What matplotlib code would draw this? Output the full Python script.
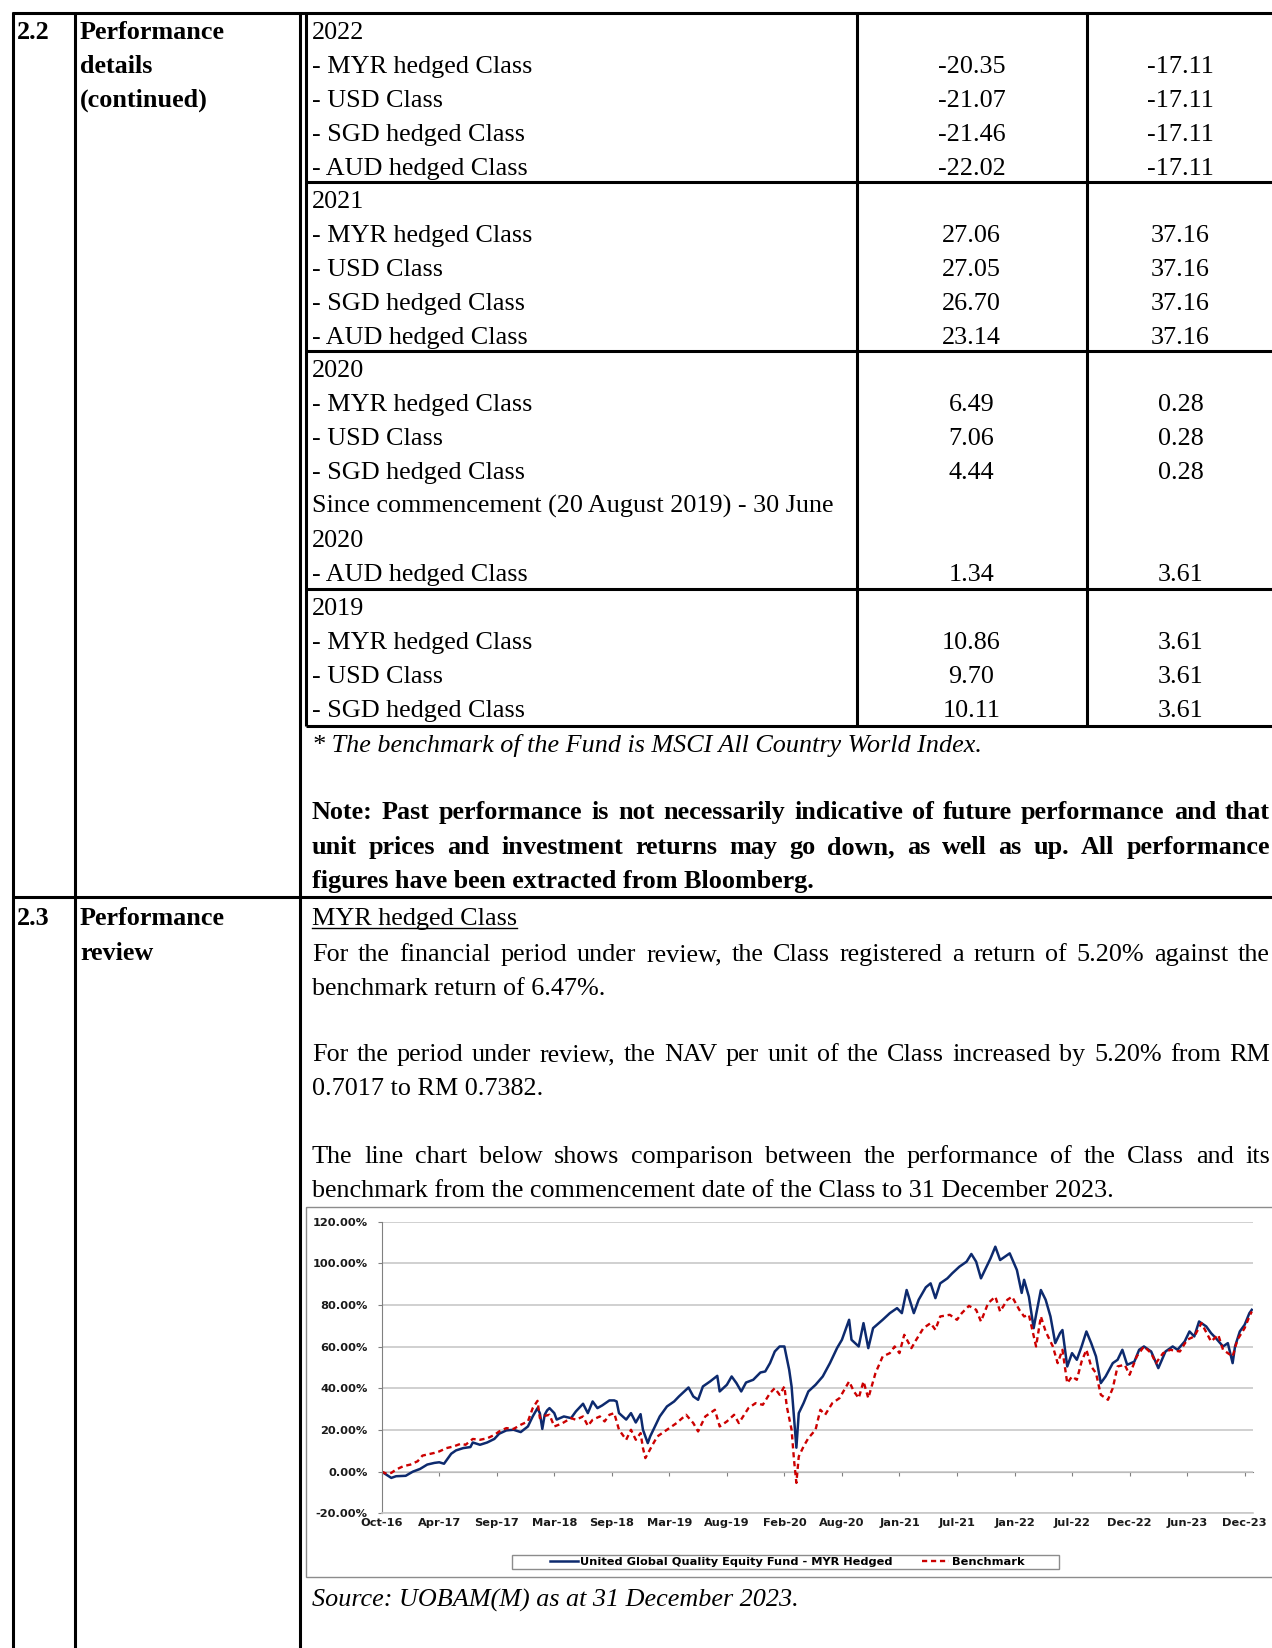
import matplotlib
matplotlib.use("Agg")
import matplotlib.pyplot as plt
from matplotlib.patches import Rectangle
from matplotlib.ticker import FuncFormatter

# ================================
# Table values (performance details, %)
# ================================
years = ["2022", "2021", "2020", "2019"]

rows_2022 = ["- MYR hedged Class", "- USD Class", "- SGD hedged Class", "- AUD hedged Class"]
fund_2022 = ["-20.35", "-21.07", "-21.46", "-22.02"]
bench_2022 = ["-17.11", "-17.11", "-17.11", "-17.11"]

rows_2021 = ["- MYR hedged Class", "- USD Class", "- SGD hedged Class", "- AUD hedged Class"]
fund_2021 = ["27.06", "27.05", "26.70", "23.14"]
bench_2021 = ["37.16", "37.16", "37.16", "37.16"]

rows_2020 = ["- MYR hedged Class", "- USD Class", "- SGD hedged Class",
             "Since commencement (20 August 2019) - 30 June", "2020", "- AUD hedged Class"]
fund_2020 = ["6.49", "7.06", "4.44", "", "", "1.34"]
bench_2020 = ["0.28", "0.28", "0.28", "", "", "3.61"]

rows_2019 = ["- MYR hedged Class", "- USD Class", "- SGD hedged Class"]
fund_2019 = ["10.86", "9.70", "10.11"]
bench_2019 = ["3.61", "3.61", "3.61"]

# ================================
# Line chart values (cumulative return %, x in weeks since Oct-16)
# ================================
tick_labels = ["Oct-16", "Apr-17", "Sep-17", "Mar-18", "Sep-18", "Mar-19", "Aug-19", "Feb-20",
               "Aug-20", "Jan-21", "Jul-21", "Jan-22", "Jul-22", "Dec-22", "Jun-23", "Dec-23"]
tick_weeks = [0, 24, 48, 72, 96, 120, 144, 168, 192, 216, 240, 264, 288, 312, 336, 360]

fund_weeks = [0, 4, 6, 10, 13, 16, 19, 22, 24, 26, 29, 31, 34, 37, 38, 41, 44, 47, 49, 52,
              55, 58, 61, 63, 65, 66, 67, 68, 69, 70, 72, 73, 76, 79, 81, 84, 86, 88, 90, 92,
              95, 97, 98, 99, 102, 104, 106, 108, 109, 111, 112, 113, 116, 119, 122, 124, 128, 130, 132, 134,
              137, 140, 141, 144, 146, 148, 150, 152, 155, 158, 160, 162, 164, 166, 168, 170, 171, 173, 174, 176,
              178, 181, 184, 187, 190, 192, 195, 196, 199, 201, 203, 205, 209, 212, 215, 217, 219, 222, 224, 227,
              229, 231, 233, 236, 238, 241, 244, 246, 248, 250, 254, 256, 258, 261, 262, 265, 267, 268, 270, 272,
              273, 275, 277, 279, 281, 283, 284, 286, 288, 290, 292, 294, 296, 298, 300, 302, 305, 307, 309, 311,
              314, 316, 318, 321, 324, 327, 330, 332, 335, 337, 339, 341, 344, 346, 348, 351, 353, 355, 356, 358,
              360, 362, 363]
fund_values = [0.0, -3.0, -2.2, -2.0, 0.0, 1.3, 3.4, 4.2, 4.5, 3.8, 8.6, 10.2, 11.3, 11.8, 14.0, 12.9, 14.0, 15.7, 18.2, 19.8,
               20.1, 19.0, 21.7, 26.5, 30.5, 28.0, 20.5, 27.3, 29.4, 30.5, 28.1, 25.0, 26.5, 25.7, 28.9, 32.6, 28.1, 33.7, 30.5, 31.8,
               34.2, 34.2, 33.7, 28.1, 25.0, 28.1, 23.6, 27.6, 20.1, 13.7, 16.9, 19.3, 26.5, 31.3, 33.7, 36.1, 40.4, 36.1, 34.5, 40.9,
               43.3, 46.0, 38.5, 41.7, 45.7, 42.5, 38.5, 42.8, 44.1, 47.6, 48.1, 52.1, 57.7, 60.1, 60.1, 48.9, 40.9, 11.5, 28.1, 32.9,
               38.5, 41.7, 45.7, 52.1, 59.4, 63.3, 72.9, 63.3, 60.1, 71.3, 59.3, 68.9, 72.9, 76.1, 78.5, 76.1, 87.2, 76.1, 82.5, 88.5,
               90.4, 83.3, 90.4, 92.8, 95.2, 98.4, 100.8, 104.5, 100.8, 92.8, 102.4, 108.0, 101.6, 104.0, 104.8, 96.8, 85.8, 92.1, 84.0, 68.9,
               75.3, 87.2, 82.5, 74.5, 61.7, 66.5, 68.0, 50.5, 56.9, 53.7, 60.1, 67.3, 61.7, 55.3, 42.5, 45.7, 52.1, 53.7, 58.5, 51.3,
               52.8, 58.5, 60.1, 57.7, 49.7, 57.7, 60.1, 58.5, 62.5, 67.3, 64.9, 72.1, 69.7, 66.5, 64.1, 60.1, 61.7, 52.1, 60.1, 67.3,
               70.5, 76.1, 77.7]

bench_weeks = [0, 2, 4, 6, 9, 12, 15, 17, 22, 24, 27, 30, 33, 35, 38, 41, 44, 47, 49, 52,
               55, 58, 61, 63, 65, 66, 67, 70, 72, 75, 79, 81, 84, 86, 88, 91, 93, 95, 97, 99,
               102, 104, 106, 108, 109, 110, 113, 115, 119, 123, 127, 130, 132, 135, 139, 141, 144, 147, 149, 153,
               156, 159, 162, 164, 166, 168, 169, 171, 172, 173, 174, 176, 178, 181, 183, 185, 188, 191, 195, 197,
               199, 201, 203, 206, 209, 212, 214, 216, 218, 221, 223, 226, 229, 231, 233, 237, 240, 242, 245, 248,
               250, 253, 256, 258, 261, 263, 266, 268, 270, 273, 275, 277, 280, 282, 284, 286, 288, 290, 292, 294,
               296, 298, 300, 303, 305, 307, 310, 312, 315, 318, 321, 323, 326, 329, 333, 336, 339, 342, 346, 349,
               351, 355, 357, 360, 362, 363]
bench_values = [0.0, -1.0, -0.6, 1.0, 2.6, 3.4, 5.0, 7.7, 9.0, 9.7, 11.3, 12.1, 13.4, 12.9, 15.7, 15.3, 16.0, 17.6, 19.3, 20.9,
                20.5, 22.5, 24.1, 30.5, 34.0, 25.7, 26.5, 27.3, 21.7, 23.0, 25.7, 24.9, 26.5, 22.0, 24.9, 26.5, 24.1, 27.3, 28.1, 20.1,
                15.3, 20.1, 15.3, 18.5, 11.3, 6.5, 12.9, 16.9, 20.1, 23.3, 27.3, 23.3, 19.3, 26.5, 29.7, 21.7, 24.1, 27.3, 23.3, 30.5,
                32.9, 32.1, 37.7, 40.1, 36.9, 40.9, 31.3, 20.1, 5.8, -5.4, 7.3, 12.1, 16.1, 20.1, 29.7, 27.3, 32.9, 35.3, 43.3, 38.5,
                35.3, 43.3, 35.3, 47.3, 55.3, 56.9, 60.1, 56.9, 65.7, 59.3, 63.3, 68.9, 71.3, 68.1, 74.5, 75.3, 72.9, 76.1, 79.6, 77.7,
                72.1, 80.9, 84.0, 76.9, 82.5, 84.0, 77.7, 74.5, 75.3, 60.1, 74.5, 67.3, 60.1, 52.1, 58.5, 42.5, 45.7, 44.1, 52.9, 58.5,
                50.5, 47.3, 36.9, 34.5, 40.1, 50.5, 51.3, 46.5, 55.3, 60.1, 56.9, 52.1, 56.9, 58.5, 57.7, 63.3, 64.9, 71.3, 62.5, 65.7,
                58.5, 55.3, 63.3, 68.9, 74.5, 76.9]

# ================================
# Page (pixel coordinates, y down)
# ================================
W, H = 1272, 1648
fig = plt.figure(figsize=(W / 100, H / 100), dpi=100)
page = fig.add_axes([0, 0, 1, 1])
page.set_autoscale_on(False)
page.set_xlim(0, W)
page.set_ylim(H, 0)
page.axis("off")
renderer = fig.canvas.get_renderer()

SERIF = "Liberation Serif"
FS = 18.8
LW = 2.2


def hline(y, x0, x1):
    page.plot([x0, x1], [y, y], color="black", lw=LW, solid_capstyle="butt")


def vline(x, y0, y1):
    page.plot([x, x], [y0, y1], color="black", lw=LW, solid_capstyle="butt")


def put(x, y, s, ha="left", **kw):
    return page.text(x, y, s, fontsize=FS, family=SERIF, va="baseline", ha=ha, **kw)


def justify(s, y, x0=312, x1=1270, **kw):
    words = s.split()
    items = [put(0, y, w, **kw) for w in words]
    widths = [t.get_window_extent(renderer).width for t in items]
    gap = (x1 - x0 - sum(widths)) / (len(words) - 1)
    x = x0
    for t, w in zip(items, widths):
        t.set_x(x)
        x += w + gap


# grid lines of the document table
hline(12.6, 11.5, W)
for x in [12.6, 75, 300]:
    vline(x, 11.5, H)
for x in [306, 857, 1087]:
    vline(x, 12.6, 725.5)
group_tops = [12.6, 182, 351, 589]
for y in group_tops[1:] + [725.5]:
    hline(y, 306, W)
hline(897, 11.5, W)

# left columns
put(17, 38.6, "2.2", fontweight="bold")
for i, s in enumerate(["Performance", "details", "(continued)"]):
    put(80, 38.6 + 34 * i, s, fontweight="bold")
put(17, 925, "2.3", fontweight="bold")
put(80, 925, "Performance", fontweight="bold")
put(80, 960, "review", fontweight="bold")

# performance table
groups = [(rows_2022, fund_2022, bench_2022), (rows_2021, fund_2021, bench_2021),
          (rows_2020, fund_2020, bench_2020), (rows_2019, fund_2019, bench_2019)]
for top, year, (rows, fund, bench) in zip(group_tops, years, groups):
    base = top + 26
    put(312, base, year)
    for i, (lab, f, b) in enumerate(zip(rows, fund, bench)):
        y = base + 34 * (i + 1)
        put(312, y, lab)
        put(971.5, y, f, ha="center")
        put(1180.5, y, b, ha="center")

put(312, 752, "* The benchmark of the Fund is MSCI All Country World Index.", fontstyle="italic")
justify("Note: Past performance is not necessarily indicative of future performance and that", 819,
        fontweight="bold")
justify("unit prices and investment returns may go down, as well as up. All performance", 854,
        fontweight="bold")
put(312, 888, "figures have been extracted from Bloomberg.", fontweight="bold")

# performance review text
head = put(312, 925, "MYR hedged Class")
hw = head.get_window_extent(renderer).width
page.plot([312, 312 + hw], [928, 928], color="black", lw=1.0)
justify("For the financial period under review, the Class registered a return of 5.20% against the", 961)
put(312, 995, "benchmark return of 6.47%.")
justify("For the period under review, the NAV per unit of the Class increased by 5.20% from RM", 1061)
put(312, 1095, "0.7017 to RM 0.7382.")
justify("The line chart below shows comparison between the performance of the Class and its", 1163)
put(312, 1197, "benchmark from the commencement date of the Class to 31 December 2023.")
put(312, 1607, "Source: UOBAM(M) as at 31 December 2023.", fontstyle="italic")

# chart frame and legend box
page.add_patch(Rectangle((305.5, 1206.5), 1000, 370, fill=False, edgecolor="#8c8c8c", lw=1.0, clip_on=False))
page.add_patch(Rectangle((512, 1555), 547, 14, fill=False, edgecolor="#8c8c8c", lw=1.0))

# ================================
# Line chart
# ================================
CHART_FONT = dict(family="DejaVu Sans", weight="bold", size=8.2)
ax = fig.add_axes([381.7 / W, 1 - 1513.3 / H, (1253 - 381.7) / W, (1513.3 - 1221.7) / H])
ax.plot(fund_weeks, fund_values, color="#0d2a6e", lw=1.8,
        label="United Global Quality Equity Fund - MYR Hedged")
ax.plot(bench_weeks, bench_values, color="#cc0000", lw=1.7, ls=(0, (2.2, 1.6)), label="Benchmark")

ax.set_xlim(0, 363.5)
ax.set_ylim(-20, 120)
ax.set_yticks([-20, 0, 20, 40, 60, 80, 100, 120])
ax.yaxis.set_major_formatter(FuncFormatter(lambda v, p: f"{v:.2f}%"))
ax.set_xticks(tick_weeks)
ax.set_xticklabels(tick_labels)
for lab in ax.get_xticklabels() + ax.get_yticklabels():
    lab.set_fontproperties(CHART_FONT)
    lab.set_color("#1a1a1a")
ax.tick_params(axis="x", length=0, pad=3.5)
ax.tick_params(axis="y", direction="out", length=3, color="#808080", pad=7)

ax.yaxis.grid(True, color="#c8c8c8", lw=1.2)
ax.set_axisbelow(True)
for side in ["top", "right"]:
    ax.spines[side].set_visible(False)
ax.spines["left"].set_color("#808080")
ax.spines["bottom"].set_color("#c8c8c8")
ax.spines["bottom"].set_linewidth(1.2)

# category axis crossing at 0%
zero_axis = ax.secondary_xaxis(20 / 140)
zero_axis.set_xticks(tick_weeks)
zero_axis.set_xticklabels([])
zero_axis.tick_params(direction="out", length=3, color="#808080")
zero_axis.spines["bottom"].set_color("#808080")

ax.legend(loc="center", bbox_to_anchor=(787.4 / W, 1 - 1562 / H), bbox_transform=fig.transFigure,
          ncol=2, frameon=False, handlelength=2.4, handletextpad=0.2, columnspacing=2.6,
          borderpad=0, prop=CHART_FONT)

fig.savefig("out.png", dpi=100)
